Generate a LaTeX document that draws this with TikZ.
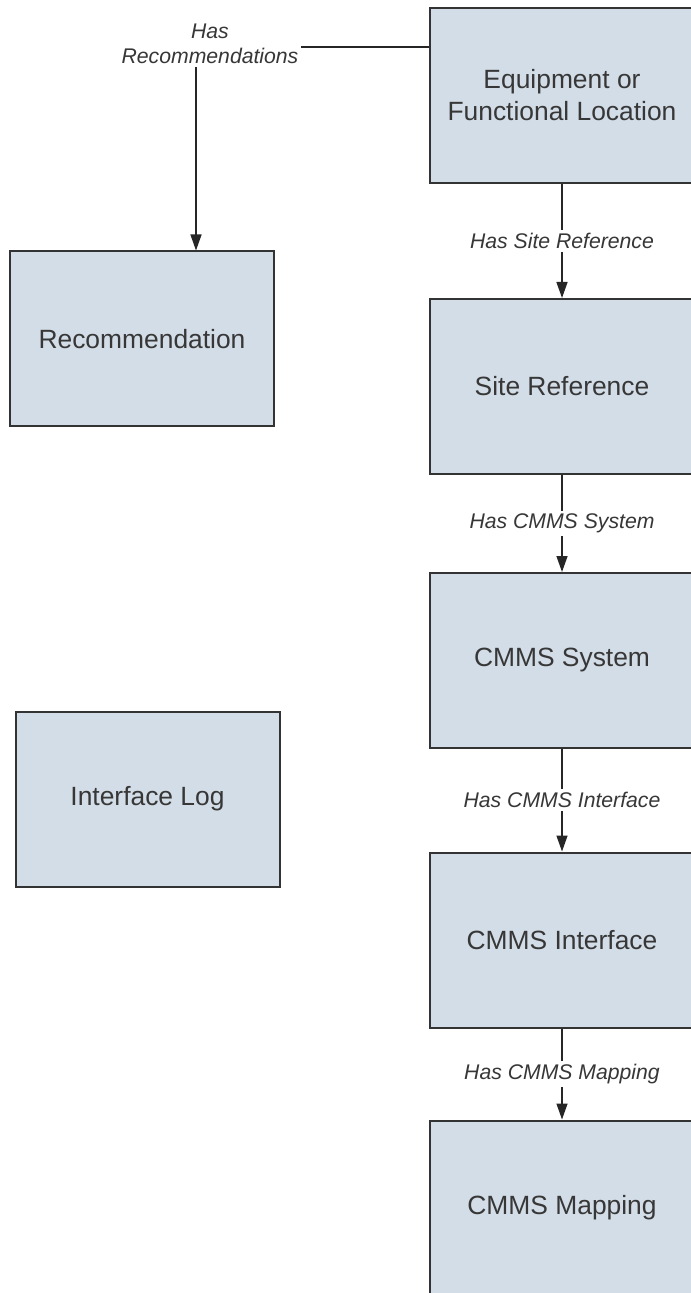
\documentclass[tikz,border=0pt]{standalone}
\usepackage{fontspec}
\setmainfont{Liberation Sans}
\usetikzlibrary{arrows.meta}
\definecolor{boxfill}{RGB}{211,221,231}
\definecolor{boxline}{RGB}{51,51,51}
\definecolor{txtgray}{RGB}{55,55,55}
\tikzset{
	entity/.style={draw=boxline, fill=boxfill, line width=1pt, minimum width=132pt, minimum height=87.5pt, align=center, text=txtgray, font=\fontsize{13.2}{16}\selectfont, inner sep=0pt},
	rel/.style={fill=white, text=txtgray, font=\fontsize{10.6}{12.5}\selectfont\itshape, inner sep=1.5pt, align=center},
	conn/.style={draw=black!85, line width=0.7pt, -{Triangle[length=8pt,width=5.5pt]}}
}

\begin{document}
\begin{tikzpicture}[x=0.5pt, y=-0.5pt]
			%%%%% START %%%%%
			\useasboundingbox (0, 0) rectangle (690, 1293);
			
			\node[entity] (equip) at (562, 95.5) {Equipment or\\Functional Location};
			\node[entity] (siteref) at (562, 386.5) {Site Reference};
			\node[entity] (cmmssys) at (562, 660.5) {CMMS System};
			\node[entity] (cmmsint) at (562, 940) {CMMS Interface};
			\node[entity] (cmmsmap) at (562, 1208) {CMMS Mapping};
			
			\node[entity] (recomm) at (142, 339) {Recommendation};
			\node[entity] (intlog) at (147.5, 799) {Interface Log};
			
			\coordinate (reccorner) at (196, 47);
			\draw[conn] (equip.west |- reccorner) -- (reccorner) -- (recomm.north -| reccorner);
			\node[rel] (hasrec) at (210, 44) {Has\\Recommendations};
			
			\draw[conn] (equip) -- node[rel] (hassite) {Has Site Reference} (siteref);
			\draw[conn] (siteref) -- node[rel] (hassys) {Has CMMS System} (cmmssys);
			\draw[conn] (cmmssys) -- node[rel] (hasint) {Has CMMS Interface} (cmmsint);
			\draw[conn] (cmmsint) -- node[rel] (hasmap) {Has CMMS Mapping} (cmmsmap);
			%%%%% END %%%%%
		\end{tikzpicture}
\end{document}
